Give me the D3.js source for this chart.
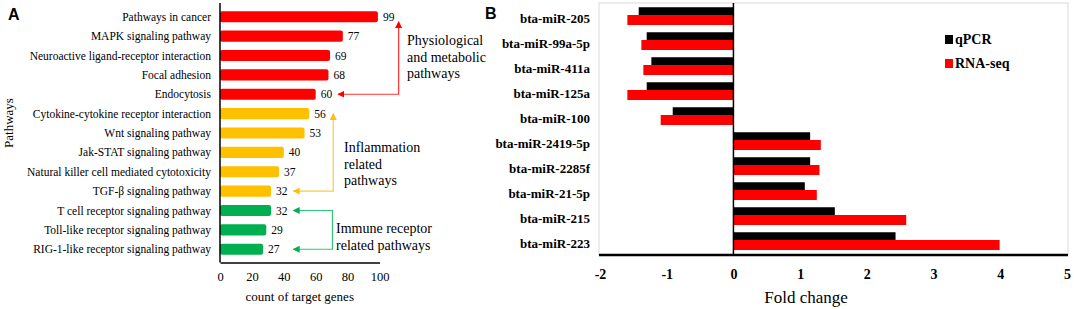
<!DOCTYPE html>
<html>
<head>
<meta charset="utf-8">
<script src="https://cdn.jsdelivr.net/npm/d3@7"></script>
<style>
  body { margin: 0; background: #fff; }
  svg text { font-family: "Liberation Serif", "Times New Roman", serif; }
</style>
</head>
<body>
<div id="chart"></div>
<script>
// panel A data
var pathways = [
  "Pathways in cancer",
  "MAPK signaling pathway",
  "Neuroactive ligand-receptor interaction",
  "Focal adhesion",
  "Endocytosis",
  "Cytokine-cytokine receptor interaction",
  "Wnt signaling pathway",
  "Jak-STAT signaling pathway",
  "Natural killer cell mediated cytotoxicity",
  "TGF-\u03b2 signaling pathway",
  "T cell receptor signaling pathway",
  "Toll-like receptor signaling pathway",
  "RIG-1-like receptor signaling pathway"
];
var geneCounts = [99, 77, 69, 68, 60, 56, 53, 40, 37, 32, 32, 29, 27];
var pathwayGroup = ["phys", "phys", "phys", "phys", "phys",
                    "infl", "infl", "infl", "infl", "infl",
                    "imm", "imm", "imm"];
var countTicks = [0, 20, 40, 60, 80, 100];

// panel B data
var mirnas = ["bta-miR-205", "bta-miR-99a-5p", "bta-miR-411a", "bta-miR-125a", "bta-miR-100",
              "bta-miR-2419-5p", "bta-miR-2285f", "bta-miR-21-5p", "bta-miR-215", "bta-miR-223"];
var qpcr   = [-1.42, -1.30, -1.23, -1.30, -0.91, 1.15, 1.15, 1.07, 1.52, 2.43];
var rnaseq = [-1.59, -1.38, -1.35, -1.59, -1.09, 1.31, 1.29, 1.25, 2.59, 3.99];
var foldTicks = [-2, -1, 0, 1, 2, 3, 4, 5];
var seriesNames = ["qPCR", "RNA-seq"];

var barColors = { phys: "#ff0000", infl: "#ffc000", imm: "#00b050" };
var lineColors = { phys: "#ff3333", infl: "#ffc845", imm: "#33c47a" };

var svg = d3.select("#chart").append("svg")
  .attr("width", 1074)
  .attr("height", 309);

/* ---------- Panel A ---------- */
var xA = d3.scaleLinear().domain([0, 100]).range([220, 379.5]);
var yA = d3.scaleBand().domain(pathways).range([3, 263]).padding(0.42);

var gA = svg.append("g");

gA.append("text")
  .attr("x", 8).attr("y", 20)
  .style("font-family", "Liberation Sans, Arial, sans-serif")
  .style("font-weight", "bold")
  .style("font-size", "16px")
  .text("A");

// bars
gA.selectAll("rect.bar")
  .data(pathways)
  .enter()
  .append("rect")
  .attr("class", "bar")
  .attr("x", xA(0))
  .attr("y", function(d) { return yA(d); })
  .attr("width", function(d, i) { return xA(geneCounts[i]) - xA(0); })
  .attr("height", yA.bandwidth())
  .attr("rx", 2)
  .attr("fill", function(d, i) { return barColors[pathwayGroup[i]]; });

// category labels
gA.selectAll("text.cat")
  .data(pathways)
  .enter()
  .append("text")
  .attr("class", "cat")
  .attr("x", xA(0) - 9)
  .attr("y", function(d) { return yA(d) + yA.bandwidth() / 2; })
  .attr("dy", "0.35em")
  .attr("text-anchor", "end")
  .style("font-size", "11.5px")
  .text(function(d) { return d; });

// value labels
gA.selectAll("text.val")
  .data(pathways)
  .enter()
  .append("text")
  .attr("class", "val")
  .attr("x", function(d, i) { return xA(geneCounts[i]) + 5; })
  .attr("y", function(d) { return yA(d) + yA.bandwidth() / 2; })
  .attr("dy", "0.35em")
  .style("font-size", "11.5px")
  .text(function(d, i) { return geneCounts[i]; });

// axes
gA.append("line")
  .attr("x1", xA(0)).attr("x2", xA(0))
  .attr("y1", 3).attr("y2", 262.5)
  .attr("stroke", "#000").attr("stroke-width", 1.5);

var axA = gA.append("g")
  .attr("transform", "translate(0,262.5)")
  .call(d3.axisBottom(xA).tickValues(countTicks).tickSize(0).tickPadding(10)
    .tickFormat(function(d) { return String(d); }));
axA.select(".domain").attr("stroke", "#000").attr("stroke-width", 1.5);
axA.selectAll("text")
  .style("font-family", "Liberation Serif, serif")
  .style("font-size", "12.5px");

gA.append("text")
  .attr("x", (xA(0) + xA(100)) / 2)
  .attr("y", 301)
  .attr("text-anchor", "middle")
  .style("font-size", "13px")
  .text("count of target genes");

gA.append("text")
  .attr("transform", "translate(13,123) rotate(-90)")
  .attr("text-anchor", "middle")
  .style("font-size", "13px")
  .text("Pathways");

// bracket annotations
var defs = svg.append("defs");
Object.keys(lineColors).forEach(function(k) {
  defs.append("marker")
    .attr("id", "arrow-" + k)
    .attr("viewBox", "0 0 10 10")
    .attr("refX", 9).attr("refY", 5)
    .attr("markerWidth", 7).attr("markerHeight", 7)
    .attr("markerUnits", "userSpaceOnUse")
    .attr("orient", "auto-start-reverse")
    .append("path")
    .attr("d", "M0,0L10,5L0,10Z")
    .attr("fill", barColors[k]);
});

function rowY(i) { return yA(pathways[i]) + yA.bandwidth() / 2; }

// red: up arrow under "99", down to Endocytosis, left arrow
gA.append("path")
  .attr("d", "M" + xA(112) + "," + (rowY(0) + 5) + "V" + rowY(4) + "H" + xA(74))
  .attr("fill", "none").attr("stroke", lineColors.phys).attr("stroke-width", 1.2)
  .attr("marker-start", "url(#arrow-phys)")
  .attr("marker-end", "url(#arrow-phys)");

// yellow: up arrow at Cytokine row, down to TGF row, left arrow
gA.append("path")
  .attr("d", "M" + xA(71) + "," + rowY(5) + "V" + rowY(9) + "H" + xA(46))
  .attr("fill", "none").attr("stroke", lineColors.infl).attr("stroke-width", 1.2)
  .attr("marker-start", "url(#arrow-infl)")
  .attr("marker-end", "url(#arrow-infl)");

// green: left arrows at T cell and RIG rows
gA.append("path")
  .attr("d", "M" + xA(46) + "," + rowY(10) + "H" + xA(70.5) + "V" + rowY(12) + "H" + xA(46))
  .attr("fill", "none").attr("stroke", lineColors.imm).attr("stroke-width", 1.2)
  .attr("marker-start", "url(#arrow-imm)")
  .attr("marker-end", "url(#arrow-imm)");

function addNote(lines, x, y0) {
  var t = gA.append("text").attr("x", x).attr("y", y0).style("font-size", "14px");
  lines.forEach(function(s, i) {
    t.append("tspan").attr("x", x).attr("dy", i === 0 ? 0 : 16.5).text(s);
  });
}
addNote(["Physiological", "and metabolic", "pathways"], 407, 45);
addNote(["Inflammation", "related", "pathways"], 344, 152);
addNote(["Immune receptor", "related pathways"], 336, 233);

/* ---------- Panel B ---------- */
var xB = d3.scaleLinear().domain([-2, 5]).range([600, 1067]);
var yB = d3.scaleBand().domain(mirnas).range([5.5, 255.5]);
var bw = yB.bandwidth();

var gB = svg.append("g");

gB.append("text")
  .attr("x", 485).attr("y", 19)
  .style("font-family", "Liberation Sans, Arial, sans-serif")
  .style("font-weight", "bold")
  .style("font-size", "16px")
  .text("B");

// plot frame
gB.append("rect")
  .attr("x", xB(-2) - 1).attr("y", 3)
  .attr("width", xB(5) - xB(-2) + 2).attr("height", 252)
  .attr("fill", "none").attr("stroke", "#d9d9d9").attr("stroke-width", 1);

// qPCR bars
gB.selectAll("rect.q")
  .data(mirnas)
  .enter()
  .append("rect")
  .attr("class", "q")
  .attr("x", function(d, i) { return xB(Math.min(0, qpcr[i])); })
  .attr("y", function(d) { return yB(d) + bw * 0.07; })
  .attr("width", function(d, i) { return Math.abs(xB(qpcr[i]) - xB(0)); })
  .attr("height", bw * 0.4)
  .attr("fill", "#000");

// RNA-seq bars
gB.selectAll("rect.r")
  .data(mirnas)
  .enter()
  .append("rect")
  .attr("class", "r")
  .attr("x", function(d, i) { return xB(Math.min(0, rnaseq[i])); })
  .attr("y", function(d) { return yB(d) + bw * 0.38; })
  .attr("width", function(d, i) { return Math.abs(xB(rnaseq[i]) - xB(0)); })
  .attr("height", bw * 0.4)
  .attr("fill", "#ff0000");

// zero line
gB.append("line")
  .attr("x1", xB(0)).attr("x2", xB(0))
  .attr("y1", 3).attr("y2", 255)
  .attr("stroke", "#000").attr("stroke-width", 1.5);

// labels
gB.selectAll("text.mir")
  .data(mirnas)
  .enter()
  .append("text")
  .attr("class", "mir")
  .attr("x", 590)
  .attr("y", function(d) { return yB(d) + bw * 0.5; })
  .attr("dy", "0.35em")
  .attr("text-anchor", "end")
  .style("font-size", "13px")
  .style("font-weight", "bold")
  .text(function(d) { return d; });

var axB = gB.append("g")
  .attr("transform", "translate(0,255)")
  .call(d3.axisBottom(xB).tickValues(foldTicks).tickSize(0).tickPadding(14)
    .tickFormat(function(d) { return String(d); }));
axB.select(".domain").attr("stroke", "#000").attr("stroke-width", 2.5)
  .attr("d", "M" + (xB(-2) - 1) + ",0H" + (xB(5) + 1));
axB.selectAll("text")
  .style("font-family", "Liberation Serif, serif")
  .style("font-size", "14px")
  .style("font-weight", "bold");

gB.append("text")
  .attr("x", 806)
  .attr("y", 303)
  .attr("text-anchor", "middle")
  .style("font-size", "17px")
  .text("Fold change");

// legend
var legend = gB.selectAll("g.leg")
  .data(seriesNames)
  .enter()
  .append("g")
  .attr("class", "leg")
  .attr("transform", function(d, i) { return "translate(945," + (35 + i * 24) + ")"; });
legend.append("rect")
  .attr("width", 8).attr("height", 9)
  .attr("fill", function(d, i) { return i === 0 ? "#000" : "#ff0000"; });
legend.append("text")
  .attr("x", 10).attr("y", 4.5)
  .attr("dy", "0.35em")
  .style("font-size", "14px")
  .style("font-weight", "bold")
  .text(function(d) { return d; });
</script>
</body>
</html>
